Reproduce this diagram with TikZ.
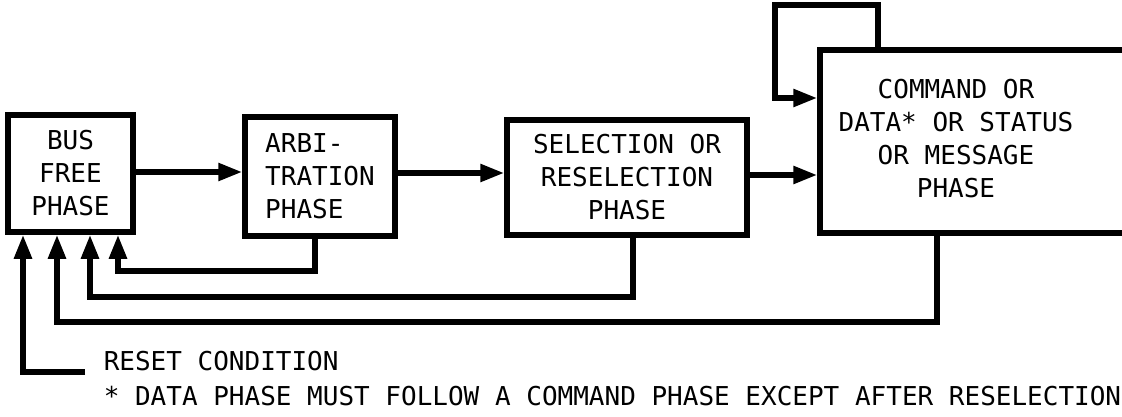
\documentclass[tikz,border=0pt]{standalone}
\usepackage{fontspec}
\newfontfamily\plotfont{DejaVu Sans Mono}
\usetikzlibrary{arrows.meta}
\begin{document}
\begin{tikzpicture}[x=1pt,y=-1pt,
  line width=5.5pt,
  txt/.style={font=\plotfont\fontsize{26}{33}\selectfont},
  box/.style={draw, rectangle, inner sep=0pt, txt},
  arr/.style={-{Triangle[length=24pt,width=17pt]}},
  lbl/.style={anchor=base west, inner sep=0pt, txt}]
\useasboundingbox (0,0) rectangle (1122,417);
\clip (0,0) rectangle (1122,417);
% boxes
\node[box, minimum width=125pt, minimum height=117pt, align=center] (bus) at (70.5,173.5) {BUS\\FREE\\PHASE};
\node[box, minimum width=150pt, minimum height=119pt, align=left] (arb) at (320,176.5) {ARBI-\\TRATION\\PHASE};
\node[box, minimum width=240pt, minimum height=115pt, align=center] (sel) at (627,177.5) {SELECTION OR\\RESELECTION\\PHASE};
\node[box, minimum width=340pt, minimum height=183pt] (cmd) at (990,141.5) {};
\node[txt, align=center, inner sep=0pt] (cmdtext) at (956,139) {COMMAND OR\\DATA* OR STATUS\\OR MESSAGE\\PHASE};
% forward arrows
\draw[arr] (bus.east |- 0,172) -- (arb.west |- 0,172);
\draw[arr] (arb.east |- 0,173) -- (sel.west |- 0,173);
\draw[arr] (sel.east |- 0,175) -- (cmd.west |- 0,175);
% self loop
\draw[arr] (cmd.north -| 878,0) |- (775,5) |- (cmd.west |- 0,98);
% return paths
\draw[arr] (arb.south -| 315,0) |- (118,271) -- (bus.south -| 118,0);
\draw[arr] (sel.south -| 633,0) |- (90,297) -- (bus.south -| 90,0);
\draw[arr] (cmd.south -| 937,0) |- (57,322) -- (bus.south -| 57,0);
% reset
\node[lbl] (reset) at (101,370) {RESET CONDITION};
\draw[arr] ([xshift=-16pt,yshift=-2pt]reset.base west) -| (bus.south -| 23,0);
\node[lbl] (note) at (101,405) {* DATA PHASE MUST FOLLOW A COMMAND PHASE EXCEPT AFTER RESELECTION};
\end{tikzpicture}
\end{document}
